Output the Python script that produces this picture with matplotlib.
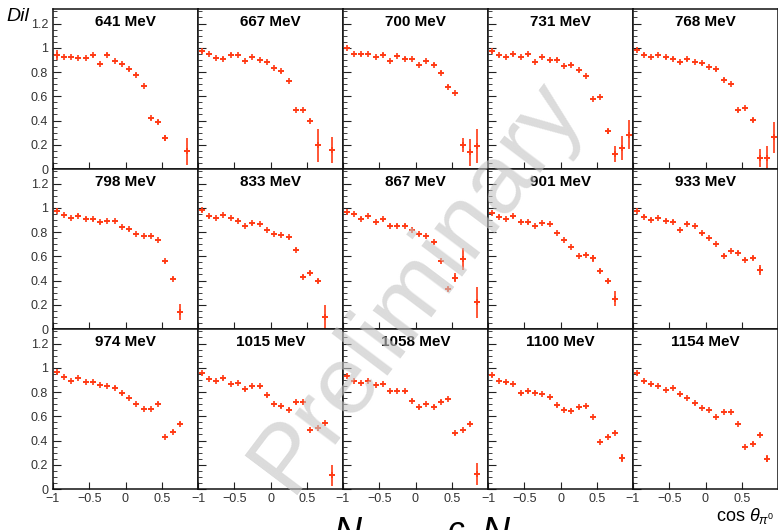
import matplotlib
matplotlib.use("Agg")
import matplotlib.pyplot as plt
from matplotlib.ticker import MultipleLocator, FixedLocator, FixedFormatter

plt.rcParams["font.family"] = ["Liberation Sans", "DejaVu Sans"]
plt.rcParams["mathtext.fontset"] = "custom"
plt.rcParams["mathtext.it"] = "Liberation Sans:italic"
plt.rcParams["mathtext.rm"] = "Liberation Sans"

# bin centres in cos(theta)
bins = [-0.95, -0.85, -0.75, -0.65, -0.55, -0.45, -0.35, -0.25, -0.15, -0.05,
        0.05, 0.15, 0.25, 0.35, 0.45, 0.55, 0.65, 0.75, 0.85, 0.95]

energies = ["641 MeV", "667 MeV", "700 MeV", "731 MeV", "768 MeV",
            "798 MeV", "833 MeV", "867 MeV", "901 MeV", "933 MeV",
            "974 MeV", "1015 MeV", "1058 MeV", "1100 MeV", "1154 MeV"]

# which bins are filled in each panel (index into bins)
idx_641 = [0, 1, 2, 3, 4, 5, 6, 7, 8, 9, 10, 11, 12, 13, 14, 15, 18]
val_641 = [0.943, 0.923, 0.923, 0.918, 0.918, 0.937, 0.866, 0.943, 0.891, 0.866,
           0.822, 0.779, 0.683, 0.418, 0.388, 0.254, 0.145]
err_641 = [0.04, 0.01, 0.01, 0.01, 0.01, 0.01, 0.01, 0.01, 0.01, 0.01,
           0.01, 0.01, 0.01, 0.015, 0.015, 0.025, 0.112]

idx_667 = [0, 1, 2, 3, 4, 5, 6, 7, 8, 9, 10, 11, 12, 13, 14, 15, 16, 18]
val_667 = [0.970, 0.951, 0.915, 0.910, 0.943, 0.940, 0.891, 0.926, 0.899, 0.883,
           0.833, 0.806, 0.727, 0.489, 0.486, 0.399, 0.194, 0.158]
err_667 = [0.015, 0.01, 0.01, 0.01, 0.01, 0.01, 0.01, 0.01, 0.01, 0.01,
           0.01, 0.01, 0.01, 0.01, 0.01, 0.012, 0.14, 0.105]

idx_700 = [0, 1, 2, 3, 4, 5, 6, 7, 8, 9, 10, 11, 12, 13, 14, 15, 16, 17, 18]
val_700 = [0.997, 0.948, 0.945, 0.951, 0.923, 0.943, 0.891, 0.932, 0.910, 0.907,
           0.858, 0.891, 0.861, 0.795, 0.680, 0.628, 0.199, 0.137, 0.191]
err_700 = [0.01, 0.01, 0.01, 0.01, 0.01, 0.01, 0.01, 0.01, 0.01, 0.01,
           0.01, 0.01, 0.01, 0.01, 0.01, 0.01, 0.055, 0.11, 0.14]

idx_731 = list(range(20))
val_731 = [0.970, 0.937, 0.926, 0.945, 0.926, 0.945, 0.885, 0.923, 0.896, 0.902,
           0.850, 0.861, 0.814, 0.768, 0.577, 0.596, 0.311, 0.126, 0.172, 0.281]
err_731 = [0.01, 0.01, 0.01, 0.01, 0.01, 0.01, 0.01, 0.01, 0.01, 0.01,
           0.01, 0.01, 0.01, 0.01, 0.01, 0.01, 0.02, 0.065, 0.10, 0.12]

idx_768 = list(range(20))
val_768 = [0.984, 0.943, 0.923, 0.940, 0.921, 0.910, 0.880, 0.904, 0.883, 0.872,
           0.842, 0.822, 0.738, 0.699, 0.484, 0.505, 0.402, 0.090, 0.090, 0.260]
err_768 = [0.01, 0.01, 0.01, 0.01, 0.01, 0.01, 0.01, 0.01, 0.01, 0.01,
           0.01, 0.01, 0.01, 0.01, 0.01, 0.01, 0.015, 0.075, 0.10, 0.13]

idx_798 = list(range(18))
val_798 = [0.976, 0.940, 0.916, 0.935, 0.910, 0.905, 0.880, 0.891, 0.889, 0.840,
           0.821, 0.783, 0.766, 0.766, 0.734, 0.557, 0.416, 0.141]
err_798 = [0.01, 0.01, 0.01, 0.01, 0.01, 0.01, 0.01, 0.01, 0.01, 0.01,
           0.01, 0.01, 0.01, 0.01, 0.01, 0.01, 0.01, 0.065]

idx_833 = list(range(18))
val_833 = [0.978, 0.929, 0.916, 0.940, 0.916, 0.894, 0.848, 0.872, 0.864, 0.818,
           0.785, 0.777, 0.755, 0.655, 0.432, 0.462, 0.394, 0.101]
err_833 = [0.01, 0.01, 0.01, 0.01, 0.01, 0.01, 0.01, 0.01, 0.01, 0.01,
           0.01, 0.01, 0.01, 0.01, 0.01, 0.015, 0.015, 0.10]

idx_867 = [0, 1, 2, 3, 4, 5, 6, 7, 8, 9, 10, 11, 12, 13, 14, 15, 16, 18]
val_867 = [0.962, 0.948, 0.910, 0.932, 0.883, 0.905, 0.853, 0.853, 0.853, 0.818,
           0.780, 0.769, 0.715, 0.560, 0.329, 0.424, 0.576, 0.220]
err_867 = [0.01, 0.01, 0.01, 0.01, 0.01, 0.01, 0.01, 0.01, 0.01, 0.01,
           0.01, 0.01, 0.01, 0.01, 0.015, 0.04, 0.09, 0.13]

idx_901 = list(range(18))
val_901 = [0.957, 0.927, 0.908, 0.929, 0.886, 0.880, 0.851, 0.875, 0.864, 0.793,
           0.734, 0.677, 0.603, 0.614, 0.584, 0.481, 0.397, 0.250]
err_901 = [0.01, 0.01, 0.01, 0.01, 0.01, 0.01, 0.01, 0.01, 0.01, 0.01,
           0.01, 0.01, 0.01, 0.01, 0.03, 0.015, 0.015, 0.06]

idx_933 = list(range(18))
val_933 = [0.973, 0.927, 0.902, 0.918, 0.894, 0.886, 0.818, 0.870, 0.851, 0.788,
           0.750, 0.701, 0.606, 0.644, 0.630, 0.573, 0.587, 0.489]
err_933 = [0.01, 0.01, 0.01, 0.01, 0.01, 0.01, 0.01, 0.01, 0.01, 0.01,
           0.01, 0.01, 0.01, 0.01, 0.01, 0.01, 0.015, 0.04]

idx_974 = list(range(18))
val_974 = [0.962, 0.926, 0.890, 0.918, 0.882, 0.882, 0.858, 0.852, 0.836, 0.789,
           0.753, 0.701, 0.660, 0.660, 0.704, 0.430, 0.474, 0.540]
err_974 = [0.01, 0.01, 0.01, 0.01, 0.01, 0.01, 0.01, 0.01, 0.01, 0.01,
           0.01, 0.01, 0.01, 0.01, 0.01, 0.01, 0.01, 0.01]

idx_1015 = list(range(19))
val_1015 = [0.953, 0.907, 0.893, 0.912, 0.866, 0.874, 0.822, 0.847, 0.847, 0.773,
            0.701, 0.682, 0.655, 0.715, 0.718, 0.485, 0.507, 0.545, 0.112]
err_1015 = [0.01, 0.01, 0.01, 0.01, 0.01, 0.01, 0.01, 0.01, 0.01, 0.01,
            0.01, 0.01, 0.01, 0.01, 0.01, 0.01, 0.01, 0.01, 0.09]

idx_1058 = list(range(19))
val_1058 = [0.934, 0.893, 0.874, 0.893, 0.858, 0.868, 0.805, 0.811, 0.805, 0.729,
            0.674, 0.699, 0.679, 0.721, 0.742, 0.458, 0.488, 0.540, 0.126]
err_1058 = [0.01, 0.01, 0.01, 0.01, 0.01, 0.01, 0.01, 0.01, 0.01, 0.01,
            0.01, 0.01, 0.01, 0.01, 0.01, 0.01, 0.01, 0.01, 0.09]

idx_1100 = list(range(19))
val_1100 = [0.937, 0.893, 0.879, 0.868, 0.789, 0.805, 0.795, 0.786, 0.756, 0.690,
            0.655, 0.647, 0.674, 0.682, 0.592, 0.386, 0.433, 0.466, 0.255]
err_1100 = [0.01, 0.01, 0.01, 0.01, 0.01, 0.01, 0.01, 0.01, 0.01, 0.01,
            0.01, 0.01, 0.01, 0.01, 0.01, 0.01, 0.01, 0.01, 0.03]

idx_1154 = list(range(19))
val_1154 = [0.953, 0.888, 0.863, 0.849, 0.819, 0.833, 0.781, 0.753, 0.707, 0.668,
            0.652, 0.595, 0.633, 0.633, 0.537, 0.348, 0.375, 0.449, 0.249]
err_1154 = [0.01, 0.01, 0.01, 0.01, 0.01, 0.01, 0.01, 0.01, 0.01, 0.01,
            0.01, 0.01, 0.01, 0.01, 0.01, 0.01, 0.01, 0.01, 0.03]

panels = [
    (idx_641, val_641, err_641), (idx_667, val_667, err_667), (idx_700, val_700, err_700),
    (idx_731, val_731, err_731), (idx_768, val_768, err_768),
    (idx_798, val_798, err_798), (idx_833, val_833, err_833), (idx_867, val_867, err_867),
    (idx_901, val_901, err_901), (idx_933, val_933, err_933),
    (idx_974, val_974, err_974), (idx_1015, val_1015, err_1015), (idx_1058, val_1058, err_1058),
    (idx_1100, val_1100, err_1100), (idx_1154, val_1154, err_1154),
]

y_ticks = [0, 0.2, 0.4, 0.6, 0.8, 1.0, 1.2]
y_labels = ["0", "0.2", "0.4", "0.6", "0.8", "1", "1.2"]
x_ticks = [-1, -0.5, 0, 0.5]
x_labels = ["\u22121", "\u22120.5", "0", "0.5"]

red = "#ff3a14"

W, H = 778, 530
fig = plt.figure(figsize=(W / 100, H / 100), dpi=100)

left0, colw = 53, 145
rowh = 160
bottoms = [361, 201, 41]

for n, (idx, vals, errs) in enumerate(panels):
    r, c = divmod(n, 5)
    ax = fig.add_axes([(left0 + c * colw) / W, bottoms[r] / H, colw / W, rowh / H])
    xs = [bins[i] for i in idx]
    ax.errorbar(xs, vals, yerr=errs, xerr=0.04, fmt="+", color=red, ms=4, mew=1.2,
                elinewidth=1.2, capsize=0)
    ax.set_xlim(-1, 1)
    ax.set_ylim(0, 1.32)
    ax.xaxis.set_major_locator(FixedLocator(x_ticks))
    ax.yaxis.set_major_locator(FixedLocator(y_ticks))
    ax.yaxis.set_minor_locator(MultipleLocator(0.05))
    ax.tick_params(axis="both", which="both", direction="in", colors="#222222",
                   labelsize=9, labelcolor="#333333")
    ax.tick_params(axis="y", which="major", length=6)
    ax.tick_params(axis="y", which="minor", length=3)
    ax.tick_params(axis="x", which="major", length=5, pad=3)
    if c == 0:
        ax.yaxis.set_major_formatter(FixedFormatter(y_labels))
    else:
        ax.set_yticklabels([])
    if r == 2:
        ax.xaxis.set_major_formatter(FixedFormatter(x_labels))
    else:
        ax.set_xticklabels([])
    for s in ax.spines.values():
        s.set_linewidth(1.1)
        s.set_color("#111111")
    ax.text(0.5, 0.965, energies[n], transform=ax.transAxes, ha="center", va="top",
            fontsize=11, fontweight="bold")

# watermark
fig.text(0.535, 0.46, "Preliminary", fontsize=70, color="#c4c4c4", alpha=0.6,
         rotation=53, ha="center", va="center", zorder=10)

fig.text(0.008, 0.985, "Dil", fontsize=14, style="italic", va="top", ha="left")
fig.text(0.995, 0.008, r"cos $\theta_{\pi^0}$", fontsize=13, ha="right", va="bottom")

# equation at the bottom, cut by the frame
fig.text(0.428, 0.026, r"$N$", fontsize=28, va="top", ha="left")
fig.text(0.575, 0.026, r"$c$", fontsize=24, va="top", ha="left")
fig.text(0.618, 0.026, r"$N$", fontsize=28, va="top", ha="left")

fig.savefig("out.png", dpi=100)
